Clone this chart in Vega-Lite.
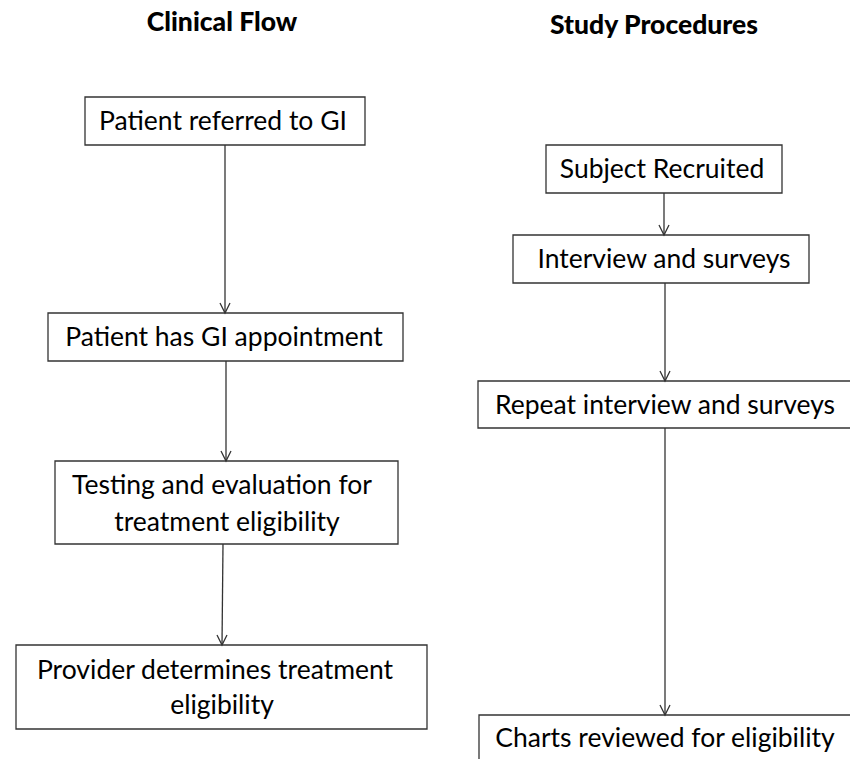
{
  "$schema": "https://vega.github.io/schema/vega-lite/v6.json",
  "width": 850,
  "height": 759,
  "padding": 0,
  "autosize": {"type": "fit", "contains": "padding"},
  "background": "white",
  "config": {"view": {"stroke": null}},
  "datasets": {
    "boxes": [
      {"id": "b1", "x1": 85, "x2": 365, "y1": 97, "y2": 145},
      {"id": "b2", "x1": 48, "x2": 403, "y1": 313, "y2": 361},
      {"id": "b3", "x1": 55, "x2": 398, "y1": 461, "y2": 544},
      {"id": "b4", "x1": 16, "x2": 427, "y1": 645, "y2": 729},
      {"id": "b5", "x1": 546, "x2": 782, "y1": 145, "y2": 193},
      {"id": "b6", "x1": 513, "x2": 809, "y1": 235, "y2": 283},
      {"id": "b7", "x1": 478, "x2": 880, "y1": 381, "y2": 428},
      {"id": "b8", "x1": 479, "x2": 880, "y1": 715, "y2": 800}
    ],
    "arrows": [
      {"x1": 225, "x2": 225, "y1": 145, "y2": 313},
      {"x1": 226, "x2": 226, "y1": 361, "y2": 461},
      {"x1": 223, "x2": 222, "y1": 544, "y2": 645},
      {"x1": 664, "x2": 664, "y1": 193, "y2": 235},
      {"x1": 665, "x2": 665, "y1": 283, "y2": 381},
      {"x1": 665, "x2": 665, "y1": 428, "y2": 715}
    ],
    "labels": [
      {"x": 223, "y": 122, "text": "Patient referred to GI"},
      {"x": 224, "y": 338, "text": "Patient has GI appointment"},
      {"x": 222, "y": 486, "text": "Testing and evaluation for"},
      {"x": 227, "y": 523, "text": "treatment eligibility"},
      {"x": 215, "y": 671, "text": "Provider determines treatment"},
      {"x": 222, "y": 706, "text": "eligibility"},
      {"x": 662, "y": 170, "text": "Subject Recruited"},
      {"x": 664, "y": 260, "text": "Interview and surveys"},
      {"x": 665, "y": 406, "text": "Repeat interview and surveys"},
      {"x": 665, "y": 739, "text": "Charts reviewed for eligibility"}
    ],
    "titles": [
      {"x": 222, "y": 23, "text": "Clinical Flow"},
      {"x": 654, "y": 26, "text": "Study Procedures"}
    ]
  },
  "layer": [
    {
      "data": {"name": "boxes"},
      "mark": {"type": "rect", "fill": "white", "stroke": "#333333", "strokeWidth": 1.3, "clip": true},
      "encoding": {
        "x": {"field": "x1", "type": "quantitative", "scale": {"domain": [0, 850], "nice": false, "zero": false}, "axis": null},
        "x2": {"field": "x2"},
        "y": {"field": "y1", "type": "quantitative", "scale": {"domain": [0, 759], "nice": false, "zero": false, "reverse": true}, "axis": null},
        "y2": {"field": "y2"}
      }
    },
    {
      "data": {"name": "arrows"},
      "mark": {"type": "rule", "stroke": "#333333", "strokeWidth": 1.3},
      "encoding": {
        "x": {"field": "x1", "type": "quantitative"},
        "x2": {"field": "x2"},
        "y": {"field": "y1", "type": "quantitative"},
        "y2": {"field": "y2"}
      }
    },
    {
      "data": {"name": "arrows"},
      "mark": {"type": "point", "shape": "M-1,-2L0,0L1,-2", "size": 100, "filled": false, "fill": null, "stroke": "#333333", "strokeWidth": 1.3, "opacity": 1},
      "encoding": {
        "x": {"field": "x2", "type": "quantitative"},
        "y": {"field": "y2", "type": "quantitative"}
      }
    },
    {
      "data": {"name": "labels"},
      "mark": {"type": "text", "font": "Lato", "fontSize": 26.5, "color": "black", "align": "center", "baseline": "middle"},
      "encoding": {
        "x": {"field": "x", "type": "quantitative"},
        "y": {"field": "y", "type": "quantitative"},
        "text": {"field": "text"}
      }
    },
    {
      "data": {"name": "titles"},
      "mark": {"type": "text", "font": "Lato", "fontWeight": 900, "fontSize": 26.5, "color": "black", "align": "center", "baseline": "middle"},
      "encoding": {
        "x": {"field": "x", "type": "quantitative"},
        "y": {"field": "y", "type": "quantitative"},
        "text": {"field": "text"}
      }
    }
  ]
}
